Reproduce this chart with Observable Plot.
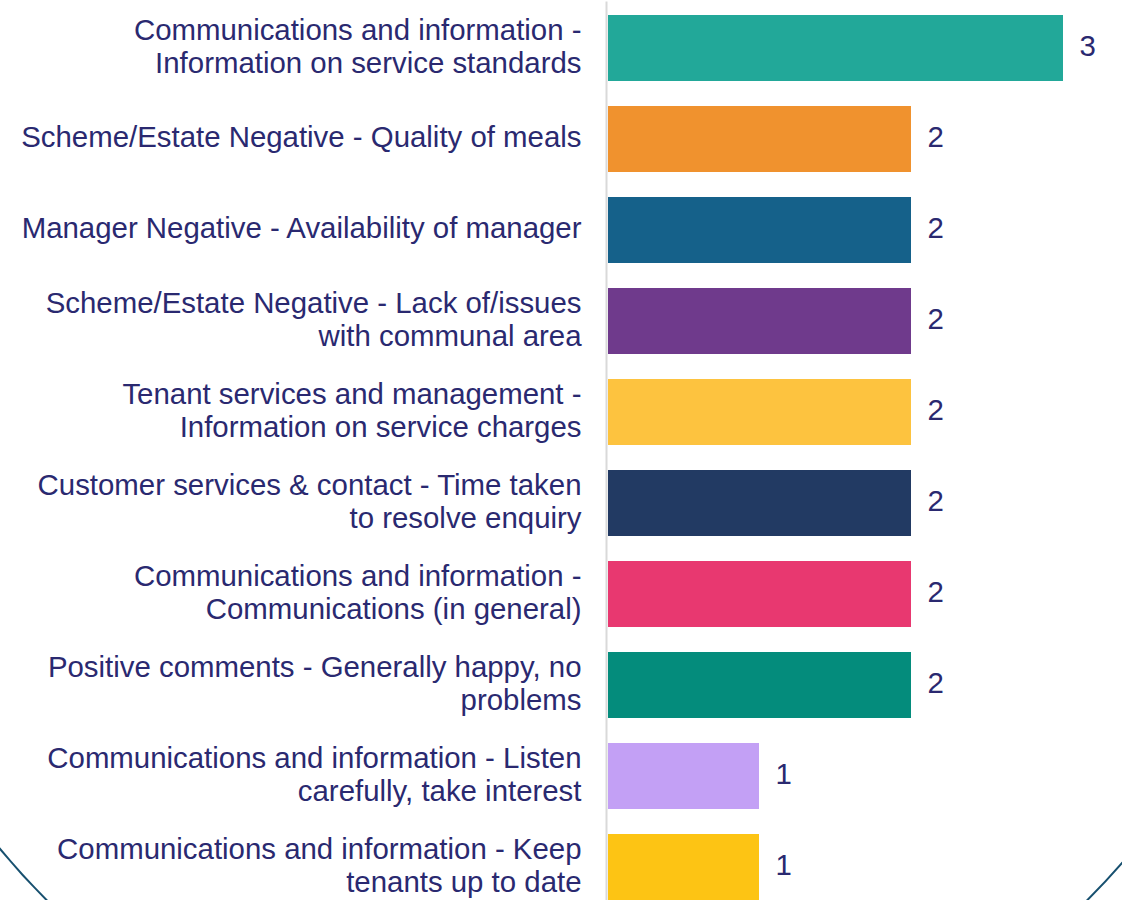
<!DOCTYPE html>
<html>
<head>
<meta charset="utf-8">
<script src="https://cdn.jsdelivr.net/npm/d3@7"></script>
<script src="https://cdn.jsdelivr.net/npm/@observablehq/plot@0.6"></script>
<style>
  html, body { margin: 0; padding: 0; background: #fff; overflow: hidden; }
  #wrap { position: relative; width: 1122px; height: 900px; overflow: hidden; }
  #deco { position: absolute; left: -169px; top: -355px; width: 1472px; height: 1472px;
          border: 2.5px solid #17506f; border-radius: 50%; box-sizing: border-box; }
  #chart { position: absolute; left: 0; top: 0; line-height: 0; }
  #chart svg { display: block; }
</style>
</head>
<body>
<div id="wrap"><div id="deco"></div><div id="chart"></div></div>
<script>
const categories = [
  "Communications and information -\nInformation on service standards",
  "Scheme/Estate Negative - Quality of meals",
  "Manager Negative - Availability of manager",
  "Scheme/Estate Negative - Lack of/issues\nwith communal area",
  "Tenant services and management -\nInformation on service charges",
  "Customer services & contact - Time taken\nto resolve enquiry",
  "Communications and information -\nCommunications (in general)",
  "Positive comments - Generally happy, no\nproblems",
  "Communications and information - Listen\ncarefully, take interest",
  "Communications and information - Keep\ntenants up to date"
];
const counts = [3, 2, 2, 2, 2, 2, 2, 2, 1, 1];
const colors = ["#22a899", "#f0922e", "#15618a", "#6f3a8c", "#fdc33f",
                "#223a63", "#e83870", "#048c7c", "#c3a0f5", "#fdc414"];

const data = categories.map((c, i) => ({category: c, count: counts[i], color: colors[i]}));
const textColor = "#2a2970";

const chart = Plot.plot({
  width: 1122,
  height: 914,
  marginLeft: 607,
  marginRight: 59,
  marginTop: 1.5,
  marginBottom: 1.3,
  style: {fontFamily: "'Liberation Sans', Arial, sans-serif", background: "transparent"},
  x: {domain: [0, 3], axis: null},
  y: {domain: categories, paddingInner: 0.276, paddingOuter: 0.138, label: null},
  marks: [
    Plot.barX(data, {y: "category", x: "count", fill: "color", insetLeft: 1}),
    Plot.ruleX([0], {stroke: "#d9d9d9", strokeWidth: 2, dx: -1}),
    Plot.text(data, {y: "category", x: "count", text: d => String(d.count),
      textAnchor: "start", dx: 16, dy: -2, fontSize: 29.4, fill: textColor}),
    Plot.axisY({tickSize: 0, tickPadding: 26, dy: -3, fontSize: 29.4, lineHeight: 1.125,
      color: textColor, label: null})
  ]
});
chart.style.overflow = "visible";
document.getElementById("chart").appendChild(chart);
</script>
</body>
</html>
